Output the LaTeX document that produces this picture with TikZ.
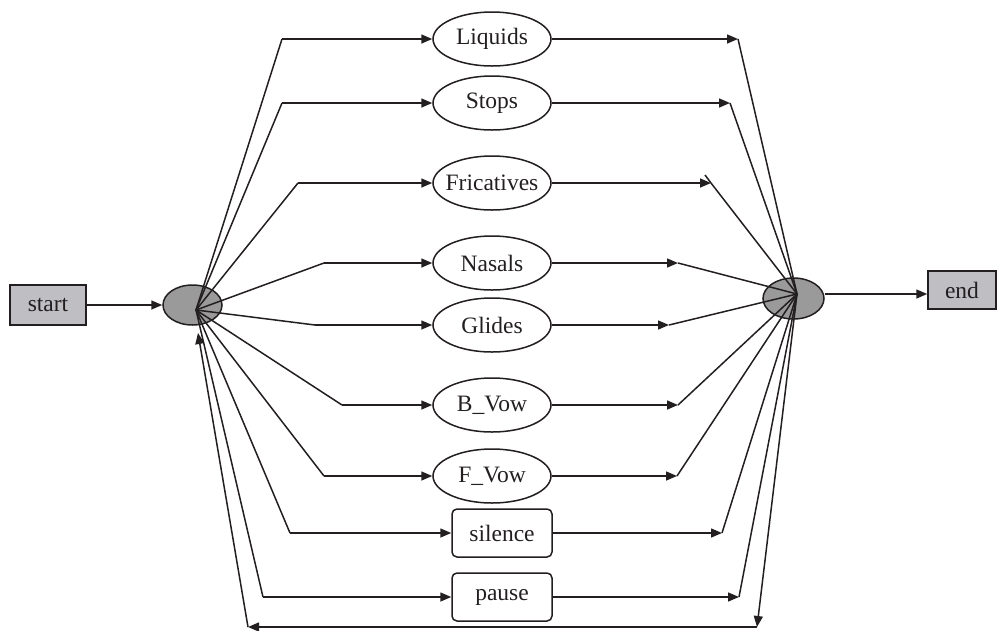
\documentclass[tikz,border=0pt]{standalone}
\usepackage{fontspec}
\setmainfont{Liberation Serif}
\usetikzlibrary{arrows.meta,shapes.geometric}
\definecolor{termgray}{HTML}{BEBEC3}
\definecolor{hubgray}{HTML}{9A9A9A}
\definecolor{ink}{HTML}{231F20}
\begin{document}
\begin{tikzpicture}[x=1pt,y=-1pt,
  every node/.style={font=\fontsize{23.5}{28}\selectfont, text=ink},
  line/.style={line width=1.5pt, draw=ink},
  arr/.style={line, -{Triangle[length=11pt,width=9pt]}},
  phone/.style={ellipse, draw=ink, line width=1.5pt, minimum width=118pt, minimum height=54pt, inner sep=0pt},
  pbox/.style={rectangle, rounded corners=5pt, draw=ink, line width=1.5pt, minimum width=100pt, minimum height=48pt, inner sep=0pt},
  term/.style={rectangle, draw=ink, line width=1.5pt, fill=termgray, inner sep=0pt},
  hub/.style={ellipse, draw=ink, line width=1.5pt, fill=hubgray, inner sep=0pt}]
\useasboundingbox (0,0) rectangle (997,630);

% terminals and hubs
\node[term, minimum width=76pt, minimum height=40pt] (start) at (48,305) {start};
\node[term, minimum width=68pt, minimum height=38pt] (end) at (962,290) {end};
\node[hub, minimum width=59pt, minimum height=40pt] (hubL) at (192.5,305) {};
\node[hub, minimum width=61pt, minimum height=41pt] (hubR) at (793.5,298.5) {};
\coordinate (L) at (196,310);
\coordinate (R) at (797,294);

\draw[arr] (start.east) -- (hubL.west);
\draw[arr] (R -| hubR.east) -- (R -| end.west);

% phone classes: fan out from the left hub, fan in to the right hub
\foreach \n/\t/\s/\x/\y/\kx/\tx in {
  liq/Liquids/phone/492/39/282/738,
  stp/Stops/phone/492/103/282/730,
  fri/Fricatives/phone/492/183/298/711,
  nas/Nasals/phone/492/263/324/678,
  gli/Glides/phone/492/325/315/669,
  bvo/B\_Vow/phone/492/405/342/678,
  fvo/F\_Vow/phone/492/476/324/677,
  sil/silence/pbox/502/533/290/722,
  pau/pause/pbox/502/597/263/739}{
  \node[\s] (\n) at (\x,\y) {\makebox[0pt]{\t}};
  \coordinate (\n-in) at (\kx,\y);
  \coordinate (\n-out) at (\tx,\y);
  \draw[line] (L) -- (\n-in);
  \draw[arr] (\n-in) -- (\n.west);
  \draw[arr] (\n.east) -- (\n-out);
  \draw[line] (\n-out) -- (R);
}
\coordinate (fri-tail) at (705,175);
\draw[line] (fri-out) -- (fri-tail);

% loop back from the right hub to the left hub
\coordinate (dn) at (757,627);
\coordinate (bl) at (248,627);
\coordinate (up) at (198,333);
\draw[arr] (R) -- (dn);
\draw[arr] (dn) -- (bl);
\draw[arr] (bl) -- (up);
\end{tikzpicture}
\end{document}
